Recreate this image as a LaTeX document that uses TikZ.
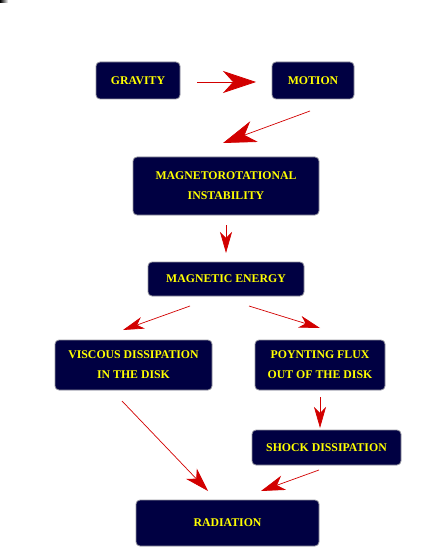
\documentclass[tikz,border=0pt]{standalone}
\usepackage{fontspec}
\setmainfont{Liberation Serif}
\usetikzlibrary{arrows.meta,calc}
\definecolor{boxnavy}{RGB}{0,0,66}
\definecolor{boxedge}{RGB}{150,150,160}
\definecolor{arrred}{RGB}{210,0,0}
\definecolor{txtyellow}{RGB}{255,255,0}
\tikzset{
  box/.style={draw=boxedge, line width=0.8pt, fill=boxnavy, rounded corners=4pt,
    text=txtyellow, font=\fontsize{11.8}{20}\selectfont\bfseries, align=center,
    inner sep=0pt, outer sep=0pt},
  bigarr/.style={draw=arrred, line width=0.7pt,
    -{Stealth[length=33pt,width=22pt,inset=10pt,fill=arrred]}},
  midarr/.style={draw=arrred, line width=0.7pt,
    -{Stealth[length=24pt,width=15pt,inset=7pt,fill=arrred]}},
  smallarr/.style={draw=arrred, line width=0.7pt,
    -{Stealth[length=21pt,width=12pt,inset=6pt,fill=arrred]}}
}
\begin{document}
\begin{tikzpicture}[x=1pt,y=-1pt]
\useasboundingbox (0,0) rectangle (436,548);
\shade[left color=black, right color=white] (0,0) rectangle (8,2.5);
\node[box, minimum width=84pt, minimum height=37pt] (gravity) at (138,80.5) {GRAVITY};
\node[box, minimum width=82pt, minimum height=37pt] (motion) at (313,80.5) {MOTION};
\node[box, minimum width=186pt, minimum height=58pt] (mri) at (226,186) {MAGNETOROTATIONAL\\INSTABILITY};
\node[box, minimum width=156pt, minimum height=34pt] (me) at (226,279) {MAGNETIC ENERGY};
\node[box, minimum width=157pt, minimum height=50pt] (visc) at (133.5,365) {VISCOUS DISSIPATION\\IN THE DISK};
\node[box, minimum width=130pt, minimum height=50pt] (poyn) at (320,365) {POYNTING FLUX\\OUT OF THE DISK};
\node[box, minimum width=149pt, minimum height=35pt] (shock) at (326.5,447.5) {SHOCK DISSIPATION};
\node[box, minimum width=183pt, minimum height=46pt] (rad) at (227.5,523) {RADIATION};

\draw[bigarr] ($(gravity.east)+(17,1.5)$) -- ($(motion.west)+(-16,1.5)$);
\draw[bigarr] ($(motion.south)+(-3,12)$) -- ($(mri.north)+(-3,-14)$);
\draw[smallarr] ($(mri.south)+(0,10)$) -- ($(me.north)+(0,-9)$);
\draw[smallarr] ($(me.south)+(-36,10)$) -- ($(visc.north)+(-10.5,-10)$);
\draw[smallarr] ($(me.south)+(23,10)$) -- ($(poyn.north)+(0,-12)$);
\draw[smallarr] ($(poyn.south)+(0,7)$) -- ($(shock.north)+(-6.5,-2)$);
\draw[midarr] ($(visc.south)+(-11.5,11)$) -- ($(rad.north)+(-19.5,-9)$);
\draw[midarr] ($(shock.south)+(-7.5,5)$) -- ($(rad.north)+(33.5,-9)$);
\end{tikzpicture}
\end{document}
